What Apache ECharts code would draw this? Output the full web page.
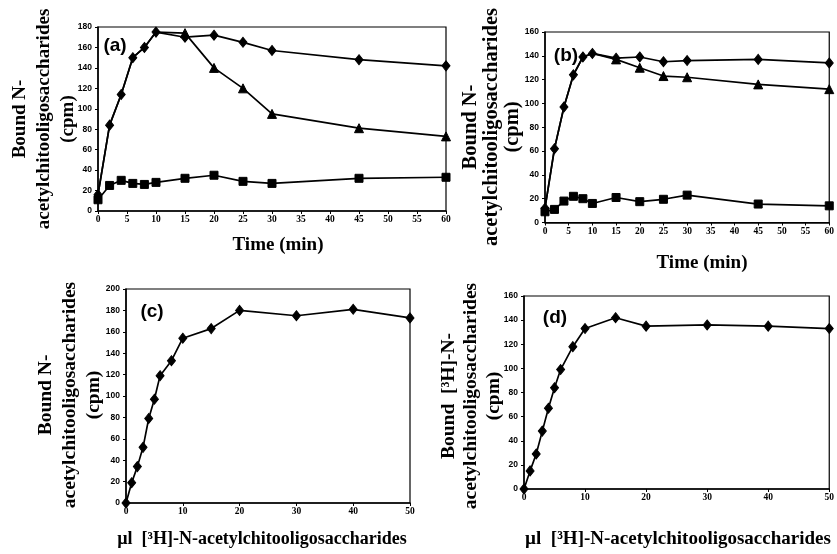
<!DOCTYPE html>
<html>
<head>
<meta charset="utf-8">
<script src="https://cdn.jsdelivr.net/npm/echarts@6/dist/echarts.min.js"></script>
<style>
html,body{margin:0;padding:0;background:#fff;}
#chart{width:837px;height:554px;}
</style>
</head>
<body>
<div id="chart"></div>
<script>
// Panel (a): time course
var aTime = [0, 2, 4, 6, 8, 10, 15, 20, 25, 30, 45, 60];
var aDiamond = [16, 84, 114, 150, 160, 175, 170, 172, 165, 157, 148, 142];
var aTriangle = [16, 84, 114, 150, 160, 175, 174, 140, 120, 95, 81, 73];
var aSquare = [11, 25, 30, 27, 26, 28, 32, 35, 29, 27, 32, 33];

// Panel (b): time course
var bTime = [0, 2, 4, 6, 8, 10, 15, 20, 25, 30, 45, 60];
var bDiamond = [12, 62, 97, 124, 139, 142, 138, 139, 135, 136, 137, 134];
var bTriangle = [12, 62, 97, 124, 139, 142, 137, 130, 123, 122, 116, 112];
var bSquare = [9, 11, 18, 22, 20, 16, 21, 17.5, 19.5, 23, 15.5, 14];

// Panel (c): saturation
var cVolume = [0, 1, 2, 3, 4, 5, 6, 8, 10, 15, 20, 30, 40, 50];
var cBound = [0, 19, 34, 52, 79, 97, 119, 133, 154, 163, 180, 175, 181, 173];

// Panel (d): saturation
var dVolume = [0, 1, 2, 3, 4, 5, 6, 8, 10, 15, 20, 30, 40, 50];
var dBound = [0, 15, 29, 48, 67, 84, 99, 118, 133, 142, 135, 136, 135, 133];

// Titles
var panelLabels = ['(a)', '(b)', '(c)', '(d)'];
var timeTitle = 'Time (min)';
var volumeTitle = 'µl  [³H]-N-acetylchitooligosaccharides';
var yTitleABC = 'Bound N-\nacetylchitooligosaccharides\n(cpm)';
var yTitleD = 'Bound  [³H]-N-\nacetylchitooligosaccharides\n(cpm)';

function pairs(xs, ys) { return xs.map(function (x, i) { return [x, ys[i]]; }); }

var chart = echarts.init(document.getElementById('chart'), null, {renderer: 'canvas'});

var grids = [
  {left: 98, top: 27, width: 348, height: 184},
  {left: 545, top: 32, width: 285, height: 190.5},
  {left: 126, top: 289, width: 284, height: 214},
  {left: 524, top: 296, width: 307, height: 193}
].map(function (g) {
  return Object.assign({show: true, borderColor: '#000', borderWidth: 1.2, backgroundColor: 'transparent'}, g);
});

function xAx(idx, max, interval) {
  return {
    type: 'value', gridIndex: idx, min: 0, max: max, interval: interval,
    axisLine: {show: true, onZero: false, lineStyle: {color: '#000', width: 1.5}},
    axisTick: {show: true, length: 3, lineStyle: {color: '#000'}},
    splitLine: {show: false},
    axisLabel: {color: '#000', fontFamily: 'Liberation Serif', fontWeight: 'bold', fontSize: 9.5, margin: 4}
  };
}
function yAx(idx, max) {
  return {
    type: 'value', gridIndex: idx, min: 0, max: max, interval: 20,
    axisLine: {show: true, onZero: false, lineStyle: {color: '#000', width: 1.5}},
    axisTick: {show: true, length: 3, lineStyle: {color: '#000'}},
    splitLine: {show: false},
    axisLabel: {color: '#000', fontFamily: 'Liberation Sans', fontWeight: 'bold', fontSize: 8.5, margin: 6}
  };
}

function line(idx, data, symbol, size, z) {
  return {
    type: 'line', xAxisIndex: idx, yAxisIndex: idx, data: data,
    symbol: symbol, symbolSize: size, showSymbol: true,
    lineStyle: {color: '#000', width: 1.7},
    itemStyle: {color: '#000', borderColor: '#000'},
    animation: false, z: z || 3
  };
}

// triangle markers are hidden where the point coincides with the diamond series
function hiddenWhereShared(own, other, size) {
  return function (val, params) {
    return own[params.dataIndex] === other[params.dataIndex] ? 0 : size;
  };
}

function rotText(x, y, text, size, lh) {
  return {
    type: 'text', x: x, y: y, rotation: Math.PI / 2,
    style: {text: text, fill: '#000', font: 'bold ' + size + 'px "Liberation Serif"',
            textAlign: 'center', textVerticalAlign: 'middle', lineHeight: lh}
  };
}
function flatText(x, y, text, size, family) {
  return {
    type: 'text', x: x, y: y,
    style: {text: text, fill: '#000', font: 'bold ' + size + 'px ' + family,
            textAlign: 'center', textVerticalAlign: 'middle'}
  };
}

var option = {
  backgroundColor: '#fff',
  animation: false,
  grid: grids,
  xAxis: [xAx(0, 60, 5), xAx(1, 60, 5), xAx(2, 50, 10), xAx(3, 50, 10)],
  yAxis: [yAx(0, 180), yAx(1, 160), yAx(2, 200), yAx(3, 160)],
  series: [
    line(0, pairs(aTime, aTriangle), 'triangle', hiddenWhereShared(aTriangle, aDiamond, 9), 2),
    line(0, pairs(aTime, aDiamond), 'diamond', [8, 10], 3),
    line(0, pairs(aTime, aSquare), 'rect', 8, 3),
    line(1, pairs(bTime, bTriangle), 'triangle', hiddenWhereShared(bTriangle, bDiamond, 9), 2),
    line(1, pairs(bTime, bDiamond), 'diamond', [8, 10], 3),
    line(1, pairs(bTime, bSquare), 'rect', 8, 3),
    line(2, pairs(cVolume, cBound), 'diamond', [8, 10], 3),
    line(3, pairs(dVolume, dBound), 'diamond', [8, 10], 3)
  ],
  graphic: [
    rotText(44.5, 119, yTitleABC, 19, 24),
    rotText(492, 127, yTitleABC, 20.5, 21),
    rotText(70, 395, yTitleABC, 19.5, 24),
    rotText(471, 396, yTitleD, 19.5, 22.5),
    flatText(278, 245, timeTitle, 19, '"Liberation Serif"'),
    flatText(702, 263, timeTitle, 19, '"Liberation Serif"'),
    flatText(262, 539, volumeTitle, 18, '"Liberation Serif"'),
    flatText(678, 539, volumeTitle, 19, '"Liberation Serif"'),
    flatText(115, 46, panelLabels[0], 19, '"Liberation Sans"'),
    flatText(566, 56, panelLabels[1], 19, '"Liberation Sans"'),
    flatText(152, 312, panelLabels[2], 19, '"Liberation Sans"'),
    flatText(555, 318, panelLabels[3], 19, '"Liberation Sans"')
  ]
};
chart.setOption(option);
</script>
</body>
</html>
